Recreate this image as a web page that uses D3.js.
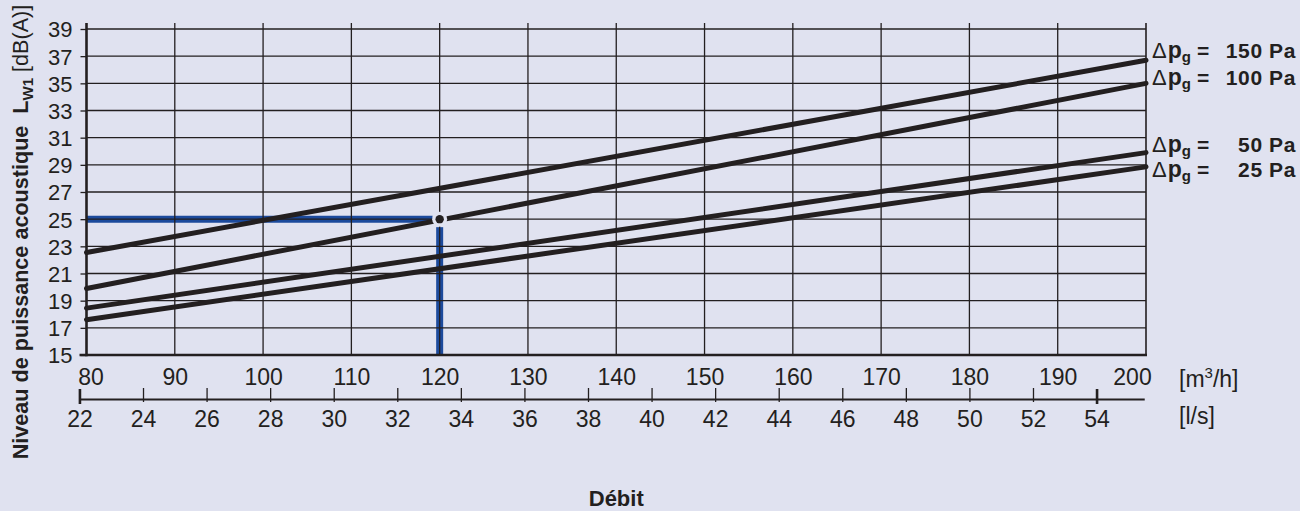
<!DOCTYPE html>
<html>
<head>
<meta charset="utf-8">
<script src="https://cdn.jsdelivr.net/npm/d3@7"></script>
<style>
  body { margin: 0; background: #e0e2f0; }
  svg { display: block; font-family: "Liberation Sans", Arial, sans-serif; }
</style>
</head>
<body>
<div id="chart"></div>
<script>
// flow axis (m3/h), secondary flow axis (l/s), sound power level (dB(A))
const flowTicks = [80, 90, 100, 110, 120, 130, 140, 150, 160, 170, 180, 190, 200];
const litreTicks = [22, 24, 26, 28, 30, 32, 34, 36, 38, 40, 42, 44, 46, 48, 50, 52, 54];
const levelTicks = [15, 17, 19, 21, 23, 25, 27, 29, 31, 33, 35, 37, 39];

// straight lines, one per pressure drop: [flow, level]
const pressures = ["150", "100", "50", "25"];
const line150 = [[80, 22.55], [200, 36.7]];
const line100 = [[80, 19.9], [200, 35.0]];
const line50  = [[80, 18.45], [200, 29.9]];
const line25  = [[80, 17.6], [200, 28.85]];

// reading example
const opFlow = 120;
const opLevel = 25;

const W = 1300, H = 511;
const bg = "#e0e2f0";
const ink = "#231f20";
const blue = "#1c4a9c";

const x = d3.scaleLinear().domain([80, 200]).range([86.5, 1146]);
const y = d3.scaleLinear().domain([15, 39]).range([355, 29]);
// l/s scale shares the pixel mapping of m3/h (1 l/s = 3.6 m3/h)
const xl = d3.scaleLinear().domain([22, 55.5]).range([x(22 * 3.6), x(55.5 * 3.6)]);

const svg = d3.select("#chart").append("svg")
  .attr("width", W)
  .attr("height", H)
  .attr("viewBox", `0 0 ${W} ${H}`);

svg.append("rect").attr("width", W).attr("height", H).attr("fill", bg);

const plotTop = y(39) - 6;

// blue reading lines (under the grid)
svg.append("line")
  .attr("x1", x(80)).attr("x2", x(opFlow) - 7)
  .attr("y1", y(opLevel)).attr("y2", y(opLevel))
  .attr("stroke", blue).attr("stroke-width", 7);
svg.append("line")
  .attr("x1", x(opFlow)).attr("x2", x(opFlow))
  .attr("y1", y(opLevel) + 8).attr("y2", y(15))
  .attr("stroke", blue).attr("stroke-width", 7);

// grid
const grid = svg.append("g").attr("stroke", ink);
grid.selectAll(".h").data(levelTicks.slice(1)).join("line")
  .attr("x1", x(80)).attr("x2", x(200))
  .attr("y1", d => y(d)).attr("y2", d => y(d))
  .attr("stroke-width", 1.3);
grid.selectAll(".v").data(flowTicks.slice(1, -1)).join("line")
  .attr("x1", d => x(d)).attr("x2", d => x(d))
  .attr("y1", plotTop).attr("y2", y(15))
  .attr("stroke-width", 1.3);
// right border
grid.append("line")
  .attr("x1", x(200)).attr("x2", x(200))
  .attr("y1", plotTop).attr("y2", y(15) + 1)
  .attr("stroke-width", 1.6);

// y axis (ticks + labels)
const yAxisG = svg.append("g")
  .attr("transform", `translate(${x(80)},0)`)
  .call(d3.axisLeft(y).tickValues(levelTicks).tickSize(6).tickPadding(8))
  .attr("font-family", null).attr("font-size", null);
yAxisG.select(".domain").remove();
yAxisG.selectAll(".tick line").attr("stroke", ink).attr("stroke-width", 1.3);
yAxisG.selectAll(".tick text")
  .attr("fill", ink).style("font-size", "22px").attr("dy", "0.36em");
// left axis line
svg.append("line")
  .attr("x1", x(80)).attr("x2", x(80))
  .attr("y1", plotTop).attr("y2", y(15) + 1.2)
  .attr("stroke", ink).attr("stroke-width", 2.6);
// bottom axis line
svg.append("line")
  .attr("x1", x(80) - 7).attr("x2", x(200) + 1)
  .attr("y1", y(15)).attr("y2", y(15))
  .attr("stroke", ink).attr("stroke-width", 2.6);

// m3/h labels
const xAxisG = svg.append("g")
  .attr("transform", `translate(0,${y(15)})`)
  .call(d3.axisBottom(x).tickValues(flowTicks).tickSize(0).tickPadding(14))
  .attr("font-family", null).attr("font-size", null);
xAxisG.select(".domain").remove();
xAxisG.selectAll(".tick text")
  .attr("fill", ink).style("font-size", "23px")
  .attr("dx", d => d === 80 ? 4 : d === 200 ? -14 : 0);

// l/s axis
const lAxisG = svg.append("g")
  .attr("transform", "translate(0,399)")
  .call(d3.axisBottom(xl).tickValues(litreTicks).tickSizeOuter(0).tickPadding(6))
  .attr("font-family", null).attr("font-size", null);
lAxisG.select(".domain").attr("stroke", ink).attr("stroke-width", 2.2);
lAxisG.selectAll(".tick line")
  .attr("stroke", ink)
  .attr("y1", d => (d === 22 || d === 54) ? -10 : -11)
  .attr("y2", d => (d === 22 || d === 54) ? 5 : 3)
  .attr("stroke-width", d => (d === 22 || d === 54) ? 2.6 : 1.3);
lAxisG.selectAll(".tick text")
  .attr("fill", ink).style("font-size", "23px");

// units
svg.append("text")
  .attr("x", 1179).attr("y", 387)
  .attr("fill", ink).style("font-size", "23px")
  .call(t => {
    t.append("tspan").text("[m");
    t.append("tspan").attr("dy", -9).style("font-size", "15px").text("3");
    t.append("tspan").attr("dy", 9).text("/h]");
  });
svg.append("text")
  .attr("x", 1179).attr("y", 424)
  .attr("fill", ink).style("font-size", "23px")
  .text("[l/s]");

// pressure lines
const lineGen = d3.line().x(d => x(d[0])).y(d => y(d[1]));
const lines = [line150, line100, line50, line25];
svg.append("g").selectAll("path").data(lines).join("path")
  .attr("d", lineGen)
  .attr("fill", "none")
  .attr("stroke", ink)
  .attr("stroke-width", 5)
  .attr("stroke-linecap", "round");

// operating point
svg.append("circle")
  .attr("cx", x(opFlow)).attr("cy", y(opLevel)).attr("r", 7.5)
  .attr("fill", bg);
svg.append("circle")
  .attr("cx", x(opFlow)).attr("cy", y(opLevel)).attr("r", 4.2)
  .attr("fill", ink);

// right labels
const labelY = [58, 85, 152, 177];
const labels = svg.append("g").attr("fill", ink).style("font-size", "21px");
pressures.forEach((p, i) => {
  labels.append("text")
    .attr("x", 1152).attr("y", labelY[i])
    .call(t => {
      t.append("tspan").style("font-size", "22px").text("\u0394");
      t.append("tspan").attr("dx", 1).style("font-weight", "bold").style("font-size", "23px").text("p");
      t.append("tspan").attr("dy", 4).style("font-weight", "bold").style("font-size", "15px").text("g");
      t.append("tspan").attr("dy", -4).attr("dx", 6).style("font-weight", "bold").text("=");
    });
  labels.append("text")
    .attr("x", 1296).attr("y", labelY[i])
    .attr("text-anchor", "end")
    .style("font-weight", "bold")
    .style("letter-spacing", "0.6px")
    .text(`${p} Pa`);
});

// y axis title
svg.append("text")
  .attr("transform", "translate(28,232) rotate(-90)")
  .attr("text-anchor", "middle")
  .attr("fill", ink)
  .style("font-size", "21.6px")
  .style("white-space", "pre")
  .call(t => {
    t.append("tspan").style("font-weight", "bold").text("Niveau de puissance acoustique  L");
    t.append("tspan").attr("dy", 5).style("font-weight", "bold").style("font-size", "15px").text("W1");
    t.append("tspan").attr("dy", -5).text(" [dB(A)]");
  });

// x title
svg.append("text")
  .attr("x", (x(80) + x(200)) / 2).attr("y", 506)
  .attr("text-anchor", "middle")
  .attr("fill", ink)
  .style("font-size", "22px")
  .style("font-weight", "bold")
  .text("Débit");
</script>
</body>
</html>
